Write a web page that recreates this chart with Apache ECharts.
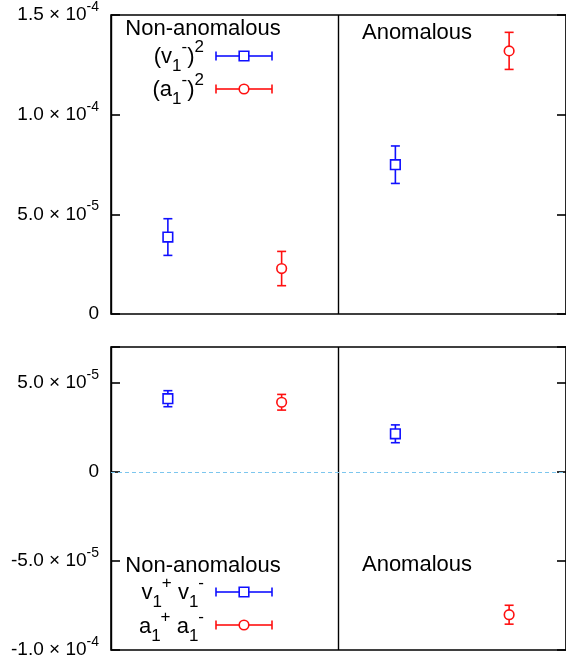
<!DOCTYPE html>
<html>
<head>
<meta charset="utf-8">
<script src="https://cdn.jsdelivr.net/npm/echarts@6/dist/echarts.min.js"></script>
<style>
html,body{margin:0;padding:0;background:#fff;}
#chart{width:566px;height:666px;}
</style>
</head>
<body>
<div id="chart"></div>
<script>
// ---- data ----
const categories = ['Non-anomalous', 'Anomalous'];
// x-values (data units) of the two markers in each category slot
const xVector = [0.5, 2.5];
const xAxial = [1.5, 3.5];
// top panel: (v1-)^2 and (a1-)^2
const vSq = [3.86e-5, 7.49e-5];
const vSqErr = [0.92e-5, 0.94e-5];
const aSq = [2.28e-5, 1.32e-4];
const aSqErr = [0.86e-5, 0.93e-5];
// bottom panel: v1+ v1- and a1+ a1-
const vv = [4.10e-5, 2.13e-5];
const vvErr = [0.45e-5, 0.50e-5];
const aa = [3.90e-5, -8.02e-5];
const aaErr = [0.44e-5, 0.53e-5];
// tick labels
const topTicks = [0, 5e-5, 1e-4, 1.5e-4];
const topTickText = [['0', ''], ['5.0 × 10', '-5'], ['1.0 × 10', '-4'], ['1.5 × 10', '-4']];
const botTicks = [-1e-4, -5e-5, 0, 5e-5];
const botTickText = [['-1.0 × 10', '-4'], ['-5.0 × 10', '-5'], ['0', ''], ['5.0 × 10', '-5']];

const FONT = '"Liberation Sans", Arial, Helvetica, sans-serif';
const BLUE = '#1010ff';
const RED = '#ff1010';

function tickFormatter(ticks, texts) {
  return function (v) {
    for (let i = 0; i < ticks.length; i++) {
      if (Math.abs(v - ticks[i]) < 1e-10) {
        const t = texts[i];
        return t[1] ? '{m|' + t[0] + '}{s|' + t[1] + '}' : '{m|' + t[0] + '}';
      }
    }
    return '';
  };
}
const labelRich = {
  m: { fontSize: 19, fontFamily: FONT, color: '#000', lineHeight: 30, verticalAlign: 'middle' },
  s: { fontSize: 14, fontFamily: FONT, color: '#000', verticalAlign: 'top', lineHeight: 16 }
};

function errSeries(name, xs, ys, es, color, shape, gridIdx) {
  const data = xs.map((x, i) => [x, ys[i], es[i]]);
  return {
    name: name,
    type: 'custom',
    xAxisIndex: gridIdx,
    yAxisIndex: gridIdx * 2,
    data: data,
    z: 10,
    renderItem: function (params, api) {
      const x = api.value(0), y = api.value(1), e = api.value(2);
      const c = api.coord([x, y]);
      const t = api.coord([x, y + e]);
      const b = api.coord([x, y - e]);
      const h = 4.8, cap = 4.5;
      const st = { stroke: color, lineWidth: 1.6, fill: null };
      const children = [
        { type: 'line', shape: { x1: c[0], y1: t[1], x2: c[0], y2: c[1] - h }, style: st },
        { type: 'line', shape: { x1: c[0], y1: c[1] + h, x2: c[0], y2: b[1] }, style: st },
        { type: 'line', shape: { x1: c[0] - cap, y1: t[1], x2: c[0] + cap, y2: t[1] }, style: st },
        { type: 'line', shape: { x1: c[0] - cap, y1: b[1], x2: c[0] + cap, y2: b[1] }, style: st }
      ];
      if (shape === 'square') {
        children.push({ type: 'rect', shape: { x: c[0] - h, y: c[1] - h, width: 2 * h, height: 2 * h }, style: { stroke: color, lineWidth: 1.6, fill: 'rgba(0,0,0,0)' } });
      } else {
        children.push({ type: 'circle', shape: { cx: c[0], cy: c[1], r: h }, style: { stroke: color, lineWidth: 1.6, fill: 'rgba(0,0,0,0)' } });
      }
      return { type: 'group', children: children };
    }
  };
}

function legendSample(y, color, shape) {
  const x1 = 216, x2 = 272, xm = 244, h = 4.8, cap = 4.5;
  const st = { stroke: color, lineWidth: 1.6, fill: null };
  const ch = [
    { type: 'line', shape: { x1: x1, y1: y, x2: xm - h, y2: y }, style: st },
    { type: 'line', shape: { x1: xm + h, y1: y, x2: x2, y2: y }, style: st },
    { type: 'line', shape: { x1: x1, y1: y - cap, x2: x1, y2: y + cap }, style: st },
    { type: 'line', shape: { x1: x2, y1: y - cap, x2: x2, y2: y + cap }, style: st }
  ];
  if (shape === 'square') ch.push({ type: 'rect', shape: { x: xm - h, y: y - h, width: 2 * h, height: 2 * h }, style: { stroke: color, lineWidth: 1.6, fill: 'rgba(0,0,0,0)' } });
  else ch.push({ type: 'circle', shape: { cx: xm, cy: y, r: h }, style: { stroke: color, lineWidth: 1.6, fill: 'rgba(0,0,0,0)' } });
  return { type: 'group', children: ch, z: 20 };
}
const legRich = {
  m: { fontSize: 22, fontFamily: FONT, color: '#000', lineHeight: 36, verticalAlign: 'middle' },
  sup: { fontSize: 17, fontFamily: FONT, color: '#000', verticalAlign: 'top', lineHeight: 18 },
  sub: { fontSize: 17, fontFamily: FONT, color: '#000', verticalAlign: 'bottom', lineHeight: 18 }
};
function legText(x, y, text, align) {
  return { type: 'text', x: x, y: y, z: 20, style: { text: text, rich: legRich, align: align || 'right', verticalAlign: 'middle', font: '22px ' + FONT, fill: '#000' } };
}
function titleText(x, y, text) {
  return { type: 'text', x: x, y: y, z: 20, style: { text: text, align: 'center', verticalAlign: 'middle', font: '22px ' + FONT, fill: '#000' } };
}

const grids = [
  { left: 111, top: 11, width: 456, height: 303, show: true, borderColor: '#000', borderWidth: 1.6, backgroundColor: 'transparent' },
  { left: 111, top: 347, width: 456, height: 303, show: true, borderColor: '#000', borderWidth: 1.6, backgroundColor: 'transparent' }
];
function xAx(i) {
  return {
    type: 'value', gridIndex: i, min: 0, max: 4, interval: 2,
    axisLine: { show: false }, axisTick: { show: false }, axisLabel: { show: false },
    splitLine: { show: true, lineStyle: { color: '#000', width: 1.4 } }
  };
}
function yAx(i, min, max, ticks, texts) {
  return [
    {
      type: 'value', gridIndex: i, min: min, max: max, interval: 5e-5, position: 'left',
      axisLine: { show: false },
      axisTick: { show: true, inside: true, length: 9, lineStyle: { color: '#000', width: 1.6 } },
      axisLabel: { show: true, margin: 12, formatter: tickFormatter(ticks, texts), rich: labelRich, showMinLabel: true, showMaxLabel: true },
      splitLine: { show: false }
    },
    {
      type: 'value', gridIndex: i, min: min, max: max, interval: 5e-5, position: 'right',
      axisLine: { show: false },
      axisTick: { show: true, inside: true, length: 9, lineStyle: { color: '#000', width: 1.6 } },
      axisLabel: { show: false }, splitLine: { show: false }
    }
  ];
}

const zeroLine = {
  type: 'line', xAxisIndex: 1, yAxisIndex: 2, data: [], silent: true,
  markLine: {
    symbol: 'none', silent: true, label: { show: false },
    lineStyle: { color: '#7cc6ee', type: [4, 3], width: 1.2 },
    data: [{ yAxis: 0 }]
  }
};

const chart = echarts.init(document.getElementById('chart'), null, { renderer: 'canvas' });
chart.setOption({
  animation: false,
  backgroundColor: '#fff',
  grid: grids,
  xAxis: [xAx(0), xAx(1)],
  yAxis: yAx(0, 0, 1.5e-4, topTicks, topTickText).concat(yAx(1, -1e-4, 7e-5, botTicks, botTickText)),
  series: [
    errSeries('(v1-)^2', xVector, vSq, vSqErr, BLUE, 'square', 0),
    errSeries('(a1-)^2', xAxial, aSq, aSqErr, RED, 'circle', 0),
    errSeries('v1+ v1-', xVector, vv, vvErr, BLUE, 'square', 1),
    errSeries('a1+ a1-', xAxial, aa, aaErr, RED, 'circle', 1),
    zeroLine
  ],
  graphic: [
    titleText(203, 29, categories[0]),
    titleText(417, 33, categories[1]),
    legText(204, 57, '{m|(v}{sub|1}{sup|-}{m|)}{sup|2}'),
    legText(204, 90, '{m|(a}{sub|1}{sup|-}{m|)}{sup|2}'),
    legendSample(56, BLUE, 'square'),
    legendSample(89, RED, 'circle'),
    titleText(203, 566, categories[0]),
    titleText(417, 565, categories[1]),
    legText(204, 593, '{m|v}{sub|1}{sup|+}{m| v}{sub|1}{sup|-}'),
    legText(204, 627, '{m|a}{sub|1}{sup|+}{m| a}{sub|1}{sup|-}'),
    legendSample(592, BLUE, 'square'),
    legendSample(625, RED, 'circle')
  ]
});
</script>
</body>
</html>
